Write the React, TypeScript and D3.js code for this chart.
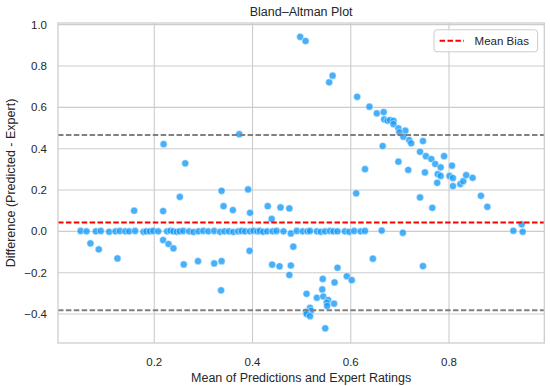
import React from "react";
import * as d3 from "d3";

// Zero-difference row (means), diff ~0
const zeroRowMeans = [
  0.050, 0.062, 0.081, 0.091, 0.108, 0.121, 0.130, 0.141, 0.149, 0.161, 0.178, 0.184,
  0.191, 0.198, 0.208, 0.226, 0.233, 0.239, 0.246, 0.252, 0.259, 0.271, 0.280, 0.290,
  0.300, 0.310, 0.322, 0.334, 0.343, 0.352, 0.361, 0.371, 0.378, 0.385, 0.395, 0.402,
  0.410, 0.415, 0.422, 0.430, 0.441, 0.449, 0.463, 0.478, 0.490, 0.502, 0.512, 0.517,
  0.531, 0.539, 0.548, 0.558, 0.565, 0.573, 0.588, 0.597, 0.607, 0.620, 0.629, 0.663,
  0.706, 0.931, 0.948, 0.950,
];
const zeroRowDiffs = [
  0.002, 0.0, 0.0, 0.002, -0.002, 0.0, 0.002, 0.0, 0.0, 0.002, -0.002, 0.0,
  0.0, 0.002, 0.0, 0.0, 0.003, 0.0, -0.002, 0.0, 0.002, 0.0, -0.003, 0.0,
  0.002, 0.0, 0.002, -0.002, 0.0, 0.0, -0.003, 0.0, 0.002, 0.0, 0.0, 0.003,
  0.0, 0.002, -0.002, 0.0, 0.0, 0.002, 0.0, -0.01, 0.002, 0.0, 0.0, 0.002,
  0.0, -0.002, 0.0, 0.002, 0.0, 0.0, 0.0, -0.002, 0.002, 0.0, 0.002, 0.004,
  -0.007, 0.003, 0.034, -0.002,
];

// Scattered points
const otherMeans = [
  0.263, 0.252, 0.337, 0.341, 0.360, 0.159, 0.218, 0.070, 0.087, 0.125,
  0.218, 0.229, 0.239, 0.260, 0.289, 0.322, 0.337, 0.391, 0.395, 0.431,
  0.457, 0.475, 0.439, 0.629, 0.611, 0.394, 0.483, 0.440, 0.455, 0.478,
  0.475, 0.573, 0.645, 0.592, 0.602, 0.543, 0.747, 0.567, 0.542, 0.510,
  0.531, 0.544, 0.554, 0.551, 0.566, 0.552, 0.517, 0.519, 0.509, 0.510,
  0.517, 0.548, 0.497, 0.508, 0.563, 0.556, 0.613, 0.638, 0.653, 0.667,
  0.668, 0.675, 0.680, 0.687, 0.687, 0.697, 0.711, 0.699, 0.707, 0.719,
  0.723, 0.665, 0.747, 0.741, 0.753, 0.373, 0.764, 0.772, 0.783, 0.790,
  0.806, 0.697, 0.717, 0.751, 0.777, 0.783, 0.776, 0.801, 0.808, 0.808,
  0.823, 0.829, 0.835, 0.848, 0.865, 0.878, 0.741, 0.766, 0.219, 0.336,
];
const otherDiffs = [
  0.329, 0.167, 0.196, 0.122, 0.103, 0.100, 0.098, -0.058, -0.087, -0.131,
  -0.042, -0.061, -0.082, -0.160, -0.144, -0.155, -0.144, 0.203, 0.090, 0.122,
  0.116, 0.111, 0.060, 0.301, 0.184, -0.094, -0.074, -0.161, -0.169, -0.165,
  -0.211, -0.176, -0.132, -0.217, -0.236, -0.230, -0.168, -0.247, -0.281, -0.302,
  -0.321, -0.315, -0.332, -0.345, -0.350, -0.361, -0.370, -0.384, -0.389, -0.400,
  -0.410, -0.469, 0.941, 0.921, 0.753, 0.721, 0.651, 0.603, 0.571, 0.577,
  0.542, 0.535, 0.538, 0.535, 0.519, 0.498, 0.487, 0.479, 0.458, 0.442,
  0.426, 0.413, 0.437, 0.385, 0.364, 0.470, 0.350, 0.326, 0.310, 0.364,
  0.318, 0.337, 0.297, 0.285, 0.277, 0.268, 0.235, 0.268, 0.258, 0.219,
  0.229, 0.243, 0.272, 0.259, 0.172, 0.119, 0.164, 0.114, 0.422, -0.285,
];

const meanBias = 0.0435;
const upperLoA = 0.466;
const lowerLoA = -0.381;

const xTicks = [0.2, 0.4, 0.6, 0.8];
const yTicks = [-0.4, -0.2, 0.0, 0.2, 0.4, 0.6, 0.8, 1.0];

const W = 550;
const H = 386;
const L = 58;
const R = 544.3;
const T = 23;
const B = 343;

const FONT = "'Liberation Sans', Arial, Helvetica, sans-serif";
const TXT = "#262626";

export default function App() {
  const x = d3.scaleLinear().domain([0.004, 0.994]).range([L, R]);
  const y = d3.scaleLinear().domain([-0.54, 1.008]).range([B, T]);

  const points = [
    ...zeroRowMeans.map((m, i) => ({ m, d: zeroRowDiffs[i] })),
    ...otherMeans.map((m, i) => ({ m, d: otherDiffs[i] })),
  ];

  const dash = "5.5,2.4";

  return (
    <svg
      width={W}
      height={H}
      style={{ position: "absolute", left: 0, top: 0, background: "#fff" }}
      fontFamily={FONT}
    >
      <rect x={0} y={0} width={W} height={H} fill="#fff" />
      {/* grid */}
      {xTicks.map((t) => (
        <line key={"gx" + t} x1={x(t)} x2={x(t)} y1={T} y2={B} stroke="#cccccc" strokeWidth={1.1} />
      ))}
      {yTicks.map((t) => (
        <line key={"gy" + t} x1={L} x2={R} y1={y(t)} y2={y(t)} stroke="#cccccc" strokeWidth={1.1} />
      ))}
      {/* points */}
      {points.map((p, i) => (
        <circle
          key={i}
          cx={x(p.m)}
          cy={y(p.d)}
          r={3.6}
          fill="#149af7"
          fillOpacity={0.78}
          stroke="#ffffff"
          strokeWidth={0.5}
        />
      ))}
      {/* reference lines */}
      <line x1={L} x2={R} y1={y(meanBias)} y2={y(meanBias)} stroke="#ff0000" strokeWidth={2} strokeDasharray={dash} />
      <line x1={L} x2={R} y1={y(upperLoA)} y2={y(upperLoA)} stroke="#808080" strokeWidth={2} strokeDasharray={dash} />
      <line x1={L} x2={R} y1={y(lowerLoA)} y2={y(lowerLoA)} stroke="#808080" strokeWidth={2} strokeDasharray={dash} />
      {/* spines */}
      <rect x={L} y={T} width={R - L} height={B - T} fill="none" stroke="#cccccc" strokeWidth={1.25} />
      {/* tick labels */}
      {xTicks.map((t) => (
        <text key={"tx" + t} x={x(t)} y={362} fontSize={11.5} fill={TXT} textAnchor="middle" dominantBaseline="central">
          {d3.format(".1f")(t)}
        </text>
      ))}
      {yTicks.map((t) => (
        <text key={"ty" + t} x={47} y={y(t)} fontSize={11.5} fill={TXT} textAnchor="end" dominantBaseline="central">
          {d3.format(".1f")(t).replace("-", "\u2212")}
        </text>
      ))}
      {/* labels */}
      <text x={(L + R) / 2} y={12} fontSize={12.5} fill={TXT} textAnchor="middle" dominantBaseline="central">
        Bland–Altman Plot
      </text>
      <text x={(L + R) / 2} y={378} fontSize={12.5} fill={TXT} textAnchor="middle" dominantBaseline="central">
        Mean of Predictions and Expert Ratings
      </text>
      <text
        transform={`translate(11,${(T + B) / 2}) rotate(-90)`}
        fontSize={12.5}
        fill={TXT}
        textAnchor="middle"
        dominantBaseline="central"
      >
        Difference (Predicted - Expert)
      </text>
      {/* legend */}
      <rect x={434} y={29.8} width={103.6} height={22} rx={3} fill="#ffffff" fillOpacity={0.8} stroke="#cccccc" strokeWidth={1} />
      <line x1={439.6} x2={464} y1={40.8} y2={40.8} stroke="#ff0000" strokeWidth={2} strokeDasharray={dash} />
      <text x={474.6} y={40.8} fontSize={11.5} fill={TXT} dominantBaseline="central">
        Mean Bias
      </text>
    </svg>
  );
}
